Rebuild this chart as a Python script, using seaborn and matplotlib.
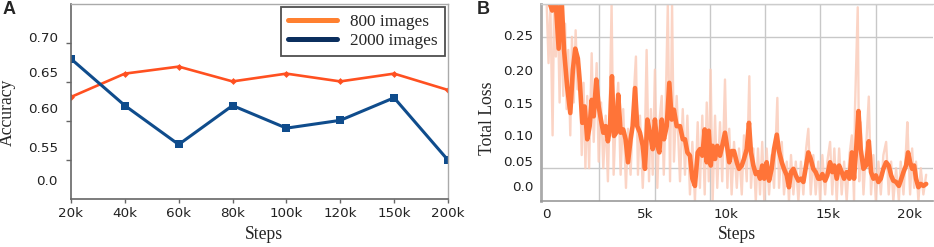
import numpy as np
import pandas as pd
import matplotlib
matplotlib.use("Agg")
import matplotlib.pyplot as plt
import seaborn as sns
from matplotlib.lines import Line2D

# ---- Panel A: accuracy per training length ----
acc_steps = ["20k", "40k", "60k", "80k", "100k", "120k", "150k", "200k"]
acc_800 = [0.631, 0.661, 0.670, 0.651, 0.661, 0.651, 0.661, 0.640]
acc_2000 = [0.680, 0.620, 0.570, 0.620, 0.591, 0.601, 0.630, 0.550]
acc_ticks = [0.55, 0.60, 0.65, 0.70]
acc_labels = ["0.0", "0.55", "0.60", "0.65", "0.70"]
acc_label_pos = [0.524, 0.567, 0.617, 0.663, 0.708]

# ---- Panel B: total loss (steps in thousands) ----
smooth_steps = [0.20, 0.45, 0.60, 0.80, 0.94, 1.09, 1.26, 1.43, 1.57, 1.70, 1.84, 1.95,
                2.08, 2.21, 2.35, 2.48, 2.59, 2.70, 2.84, 2.97, 3.09, 3.22, 3.35, 3.47,
                3.58, 3.69, 3.80, 3.92, 4.03, 4.16, 4.30, 4.43, 4.56, 4.70, 4.81, 4.94,
                5.06, 5.21, 5.36, 5.48, 5.61, 5.75, 5.90, 6.02, 6.15, 6.26, 6.39, 6.51,
                6.66, 6.80, 6.93, 7.05, 7.20, 7.38, 7.53, 7.65, 7.78, 7.92, 8.05, 8.19,
                8.34, 8.46, 8.59, 8.72, 8.83, 8.94, 9.05, 9.15, 9.28, 9.40, 9.55, 9.67,
                9.82, 9.95, 10.05, 10.18, 10.31, 10.46, 10.58, 10.73, 10.85, 11.00, 11.12,
                11.23, 11.36, 11.49, 11.61, 11.72, 11.84, 11.95, 12.08, 12.21, 12.35,
                12.48, 12.63, 12.75, 12.90, 13.02, 13.17, 13.29, 13.40, 13.53, 13.66,
                13.80, 13.94, 14.07, 14.22, 14.34, 14.47, 14.61, 14.74, 14.88, 14.98,
                15.10, 15.25, 15.37, 15.52, 15.64, 15.75, 15.88, 16.01, 16.15, 16.28,
                16.42, 16.57, 16.70, 16.82, 16.97, 17.06, 17.18, 17.33, 17.47, 17.62,
                17.74, 17.87, 18.00, 18.14, 18.27, 18.41, 18.56, 18.70, 18.83, 18.95,
                19.10, 19.25, 19.35, 19.50, 19.64, 19.75, 19.86, 19.97, 20.08, 20.18,
                20.31, 20.44, 20.58, 20.73]
smooth_loss = [0.310, 0.290, 0.320, 0.232, 0.320, 0.230, 0.174, 0.134, 0.200, 0.232, 0.217, 0.180,
               0.119, 0.144, 0.094, 0.114, 0.154, 0.129, 0.185, 0.144, 0.124, 0.104, 0.114, 0.091,
               0.112, 0.190, 0.099, 0.104, 0.162, 0.104, 0.109, 0.094, 0.059, 0.094, 0.114, 0.172,
               0.114, 0.104, 0.084, 0.049, 0.124, 0.104, 0.079, 0.124, 0.084, 0.074, 0.124, 0.094,
               0.114, 0.180, 0.124, 0.139, 0.114, 0.114, 0.094, 0.094, 0.074, 0.069, 0.034, 0.023,
               0.074, 0.079, 0.069, 0.109, 0.059, 0.107, 0.054, 0.084, 0.064, 0.084, 0.069, 0.084,
               0.104, 0.080, 0.059, 0.076, 0.076, 0.059, 0.049, 0.054, 0.064, 0.079, 0.119,
               0.074, 0.054, 0.041, 0.044, 0.034, 0.054, 0.034, 0.059, 0.031, 0.049,
               0.079, 0.101, 0.076, 0.059, 0.049, 0.039, 0.021, 0.044, 0.049, 0.039,
               0.031, 0.034, 0.029, 0.054, 0.074, 0.064, 0.049, 0.044, 0.034, 0.034,
               0.041, 0.031, 0.039, 0.059, 0.044, 0.054, 0.034, 0.054, 0.044, 0.034,
               0.044, 0.034, 0.074, 0.034, 0.094, 0.137, 0.079, 0.049, 0.054, 0.091,
               0.044, 0.034, 0.039, 0.029, 0.034, 0.049, 0.059, 0.054, 0.039, 0.031,
               0.029, 0.023, 0.031, 0.044, 0.054, 0.074, 0.059, 0.049, 0.054, 0.034,
               0.021, 0.026, 0.023, 0.026]

raw_steps = [0.15, 0.25, 0.35, 0.47, 0.55, 0.65, 0.75, 0.85, 0.95, 1.05, 1.15, 1.23, 1.32,
             1.43, 1.52, 1.62, 1.72, 1.82, 1.95, 2.05, 2.15, 2.25, 2.35, 2.45, 2.59, 2.70,
             2.86, 2.97, 3.10, 3.22, 3.35, 3.47, 3.58, 3.67, 3.78, 3.90, 4.03, 4.16, 4.30,
             4.45, 4.56, 4.70, 4.85, 4.99, 5.10, 5.21, 5.36, 5.48, 5.57, 5.70, 5.80, 5.90,
             6.02, 6.15, 6.26, 6.39, 6.50, 6.60, 6.72, 6.84, 6.95, 7.05, 7.20, 7.38, 7.53,
             7.65, 7.78, 7.92, 8.05, 8.19, 8.34, 8.46, 8.59, 8.72, 8.83, 8.94, 9.04, 9.15,
             9.28, 9.40, 9.55, 9.67, 9.82, 9.95, 10.05, 10.18, 10.31, 10.46, 10.58, 10.73,
             10.85, 11.00, 11.14, 11.23, 11.36, 11.49, 11.61, 11.72, 11.84, 11.95, 12.08,
             12.21, 12.35, 12.48, 12.66, 12.75, 12.90, 13.02, 13.17, 13.29, 13.40, 13.53,
             13.66, 13.80, 13.94, 14.07, 14.22, 14.34, 14.47, 14.61, 14.74, 14.88, 14.98,
             15.10, 15.25, 15.37, 15.52, 15.64, 15.75, 15.88, 16.01, 16.15, 16.28, 16.42,
             16.57, 16.70, 16.82, 16.87, 17.02, 17.10, 17.18, 17.33, 17.47, 17.62, 17.74,
             17.87, 18.00, 18.14, 18.27, 18.41, 18.56, 18.70, 18.83, 18.95, 19.10, 19.25,
             19.35, 19.50, 19.64, 19.71, 19.86, 19.97, 20.08, 20.18, 20.31, 20.44, 20.58,
             20.73]
raw_loss = [0.30, 0.21, 0.30, 0.10, 0.30, 0.22, 0.30, 0.15, 0.30, 0.16, 0.27, 0.14, 0.23,
            0.10, 0.25, 0.15, 0.26, 0.17, 0.20, 0.07, 0.18, 0.05, 0.16, 0.05, 0.225, 0.09,
            0.21, 0.06, 0.15, 0.05, 0.13, 0.03, 0.16, 0.30, 0.04, 0.13, 0.18, 0.04, 0.14,
            0.02, 0.11, 0.04, 0.15, 0.22, 0.04, 0.13, 0.02, 0.10, 0.23, 0.03, 0.14, 0.04,
            0.20, 0.02, 0.12, 0.16, 0.04, 0.14, 0.30, 0.03, 0.30, 0.06, 0.16, 0.03, 0.14,
            0.04, 0.13, 0.01, 0.09, 0.00, 0.12, 0.02, 0.13, 0.01, 0.15, 0.03, 0.20, 0.00,
            0.13, 0.02, 0.12, 0.03, 0.185, 0.02, 0.11, 0.01, 0.09, 0.02, 0.08, 0.01,
            0.10, 0.03, 0.19, 0.02, 0.08, 0.00, 0.08, 0.01, 0.09, 0.00, 0.08,
            0.01, 0.07, 0.02, 0.157, 0.02, 0.09, 0.01, 0.06, 0.00, 0.07, 0.01,
            0.06, 0.00, 0.06, 0.01, 0.08, 0.11, 0.01, 0.07, 0.01, 0.06, 0.00,
            0.07, 0.01, 0.06, 0.09, 0.01, 0.08, 0.00, 0.08, 0.01, 0.06, 0.00,
            0.07, 0.10, 0.00, 0.14, 0.295, 0.03, 0.12, 0.01, 0.08, 0.159, 0.01,
            0.07, 0.00, 0.06, 0.01, 0.07, 0.09, 0.01, 0.06, 0.00, 0.05, 0.00,
            0.06, 0.01, 0.08, 0.12, 0.01, 0.08, 0.02, 0.06, 0.00, 0.05, 0.01,
            0.04]
loss_grid_y = [0.05, 0.10, 0.15, 0.20, 0.25, 0.30]
loss_labels = ["0.0", "0.05", "0.10", "0.15", "0.20", "0.25"]
loss_label_pos = [0.023, 0.061, 0.100, 0.150, 0.200, 0.253]
loss_grid_x = [3, 6, 9, 12, 15, 18]
step_labels = ["0", "5k", "10k", "15k", "20k"]
step_label_pos = [0.15, 5.5, 9.9, 15.4, 19.85]

sns.set_style("white")
plt.rcParams["font.family"] = ["DejaVu Sans"]
SERIF = ["Liberation Serif", "DejaVu Serif"]

fig = plt.figure(figsize=(9.34, 2.47), dpi=100)
axA = fig.add_axes([0.0760, 0.1943, 0.4036, 0.7895])
axB = fig.add_axes([0.5792, 0.1862, 0.4197, 0.7976])

# Panel A
pos = pd.Categorical(acc_steps, categories=acc_steps).codes
sns.lineplot(x=pos, y=acc_800, ax=axA, color="#ff5020", linewidth=1.9,
             marker="D", markersize=3.5, markeredgewidth=0, legend=False)
sns.lineplot(x=pos, y=acc_2000, ax=axA, color="#0f4c8c", linewidth=2.2,
             marker="s", markersize=5.5, markeredgewidth=0, legend=False)
axA.set_xlim(0, len(acc_steps) - 1)
axA.set_ylim(0.50, 0.7504)
axA.set_xticks(pos)
axA.set_xticklabels(acc_steps)
axA.set_yticks(acc_ticks, minor=True)
axA.set_yticks(acc_label_pos)
axA.set_yticklabels(acc_labels)
axA.tick_params(axis="y", which="major", length=0, pad=9.5, labelsize=9.7, labelcolor="#222")
axA.tick_params(axis="y", which="minor", length=3.6, width=1, color="#666", left=True)
axA.tick_params(axis="x", length=3, width=1, color="#666", pad=2.5, labelsize=9.7,
                labelcolor="#222", bottom=True)
for s in ["left", "bottom"]:
    axA.spines[s].set_color("#666")
    axA.spines[s].set_linewidth(1.2)
for s in ["top", "right"]:
    axA.spines[s].set_color("#aaa")
    axA.spines[s].set_linewidth(1)
axA.set_xlabel("Steps", family=SERIF, fontsize=12.7)
axA.set_ylabel("Accuracy", family=SERIF, fontsize=12.7)
axA.xaxis.set_label_coords(0.512, -0.138)
axA.yaxis.set_label_coords(-0.147, 0.4436)
handles = [Line2D([], [], color="#ff8030", lw=3.6), Line2D([], [], color="#0b2f5e", lw=3.6)]
leg = axA.legend(handles, ["800 images", "2000 images"], loc="upper right",
                 bbox_to_anchor=(0.992, 0.985), borderaxespad=0, fancybox=False,
                 frameon=True, prop={"family": SERIF, "size": 12.4}, handlelength=2.85,
                 handletextpad=0.8, labelspacing=0.2, borderpad=0.4)
leg.get_frame().set_edgecolor("#222")
leg.get_frame().set_linewidth(1.3)

# Panel B
sns.lineplot(x=raw_steps, y=raw_loss, ax=axB, color="#fbcdbb", linewidth=1.7,
             alpha=0.85, legend=False)
sns.lineplot(x=smooth_steps, y=smooth_loss, ax=axB, color="#ff7438", linewidth=3.3,
             legend=False, solid_capstyle="round")
axB.set_xlim(-0.16, 21.1)
axB.set_ylim(0, 0.30)
axB.set_xticks(loss_grid_x, minor=True)
axB.set_xticks(step_label_pos)
axB.set_xticklabels(step_labels)
axB.set_yticks(loss_grid_y, minor=True)
axB.set_yticks(loss_label_pos)
axB.set_yticklabels(loss_labels)
axB.grid(which="minor", color="#c8c8c8", linewidth=1)
axB.grid(which="major", visible=False)
axB.tick_params(which="both", length=0)
axB.tick_params(axis="y", pad=5.5, labelsize=9.7, labelcolor="#222")
axB.tick_params(axis="x", pad=5, labelsize=9.7, labelcolor="#222")
axB.spines["left"].set_color("#aaa")
axB.spines["left"].set_linewidth(2)
axB.spines["bottom"].set_color("#999")
axB.spines["bottom"].set_linewidth(1.2)
axB.spines["top"].set_color("#ccc")
axB.spines["top"].set_linewidth(1)
axB.spines["right"].set_visible(False)
axB.set_xlabel("Steps", family=SERIF, fontsize=12.7)
axB.set_ylabel("Total Loss", family=SERIF, fontsize=12.7)
axB.xaxis.set_label_coords(0.5, -0.127)
axB.yaxis.set_label_coords(-0.116, 0.419)

fig.text(3 / 934, 1 - 1.5 / 247, "A", family=["Liberation Sans"], weight="bold",
         fontsize=13, va="top", ha="left")
fig.text(477 / 934, 1 - 1.5 / 247, "B", family=["Liberation Sans"], weight="bold",
         fontsize=13, va="top", ha="left")

fig.savefig("out.png", dpi=100)
